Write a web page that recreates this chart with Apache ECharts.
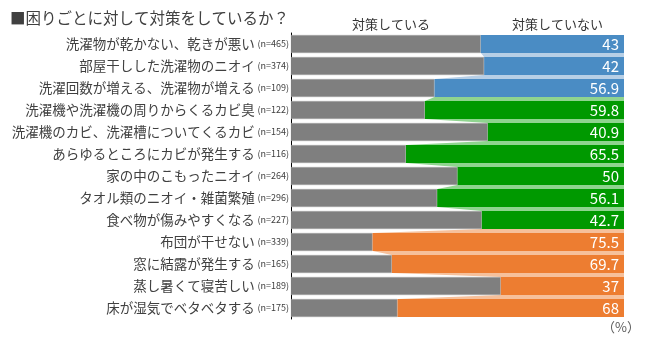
<!DOCTYPE html>
<html><head><meta charset="utf-8">
<script src="https://cdn.jsdelivr.net/npm/echarts@6/dist/echarts.min.js"></script>
<style>html,body{margin:0;padding:0;background:#fff}#c{width:650px;height:342px}</style>
</head><body><div id="c"></div>
<script>
const categories = ['洗濯物が乾かない、乾きが悪い','部屋干しした洗濯物のニオイ','洗濯回数が増える、洗濯物が増える','洗濯機や洗濯機の周りからくるカビ臭','洗濯機のカビ、洗濯槽についてくるカビ','あらゆるところにカビが発生する','家の中のこもったニオイ','タオル類のニオイ・雑菌繁殖','食べ物が傷みやすくなる','布団が干せない','窓に結露が発生する','蒸し暑くて寝苦しい','床が湿気でベタベタする'];
const sampleSizes = [465,374,109,122,154,116,264,296,227,339,165,189,175];
const notTaking = [43,42,56.9,59.8,40.9,65.5,50,56.1,42.7,75.5,69.7,37,68];
const groups = [0,0,0,1,1,1,1,1,1,2,2,2,2];
const groupColors = ['#4a8cc4','#009900','#ed7d31'];
const lightColors = ['#b7cfe6','#8fd48f','#f6c09b'];
const taking = notTaking.map(v => +(100 - v).toFixed(1));

const FONT = '"Noto Sans CJK JP", "Noto Sans", sans-serif';
const chart = echarts.init(document.getElementById('c'));
const BAR_H = 18;
const connectors = [];
for (let i = 0; i < categories.length - 1; i++) connectors.push([i, taking[i], taking[i+1], groups[i+1]]);

chart.setOption({
  animation: false,
  textStyle: {fontFamily: FONT},
  grid: {left: 291, right: 26, top: 33, bottom: 23},
  title: [
    {text: '■困りごとに対して対策をしているか？', left: 5, top: 5, textStyle: {fontFamily: FONT, fontSize: 15.5, fontWeight: 'normal', color: '#404040'}},
    {text: '対策している', left: 347, top: 13, textStyle: {fontFamily: FONT, fontSize: 13, fontWeight: 'normal', color: '#333'}},
    {text: '対策していない', left: 507, top: 13, textStyle: {fontFamily: FONT, fontSize: 13, fontWeight: 'normal', color: '#333'}},
    {text: '（%）', left: 597, top: 316, textStyle: {fontFamily: FONT, fontSize: 13, fontWeight: 'normal', color: '#595959'}}
  ],
  xAxis: {type: 'value', min: 0, max: 100, show: false},
  yAxis: {
    type: 'category', data: categories, inverse: true,
    axisLine: {show: true, lineStyle: {color: '#000', width: 1}},
    axisTick: {show: false},
    axisLabel: {
      margin: 2,
      formatter: (v, idx) => '{a|' + v + '} {n|(n=' + sampleSizes[idx] + ')}',
      rich: {
        a: {fontFamily: FONT, fontSize: 13.5, color: '#404040'},
        n: {fontFamily: FONT, fontSize: 9, color: '#404040'}
      }
    }
  },
  series: [
    {
      type: 'custom', z: 1,
      data: connectors,
      renderItem: (params, api) => {
        const i = api.value(0);
        const y1 = api.coord([0, i])[1] + BAR_H / 2;
        const y2 = api.coord([0, i + 1])[1] - BAR_H / 2;
        const xa = api.coord([api.value(1), i])[0];
        const xb = api.coord([api.value(2), i])[0];
        const xe = api.coord([100, i])[0];
        return {type: 'polygon', shape: {points: [[xa, y1], [xe, y1], [xe, y2], [xb, y2]]},
          style: {fill: lightColors[api.value(3)]}};
      }
    },
    {
      name: '対策している', type: 'bar', stack: 's', barWidth: BAR_H, z: 2,
      data: taking,
      itemStyle: {color: '#7f7f7f', borderColor: '#a6a6a6', borderWidth: 0.6}
    },
    {
      name: '対策していない', type: 'bar', stack: 's', barWidth: BAR_H, z: 2,
      data: notTaking.map((v, i) => ({value: v, itemStyle: {color: groupColors[groups[i]]}})),
      label: {show: true, position: 'insideRight', distance: 5, color: '#fff', fontSize: 15, fontFamily: FONT,
        formatter: p => String(p.value)}
    }
  ]
});
</script></body></html>
